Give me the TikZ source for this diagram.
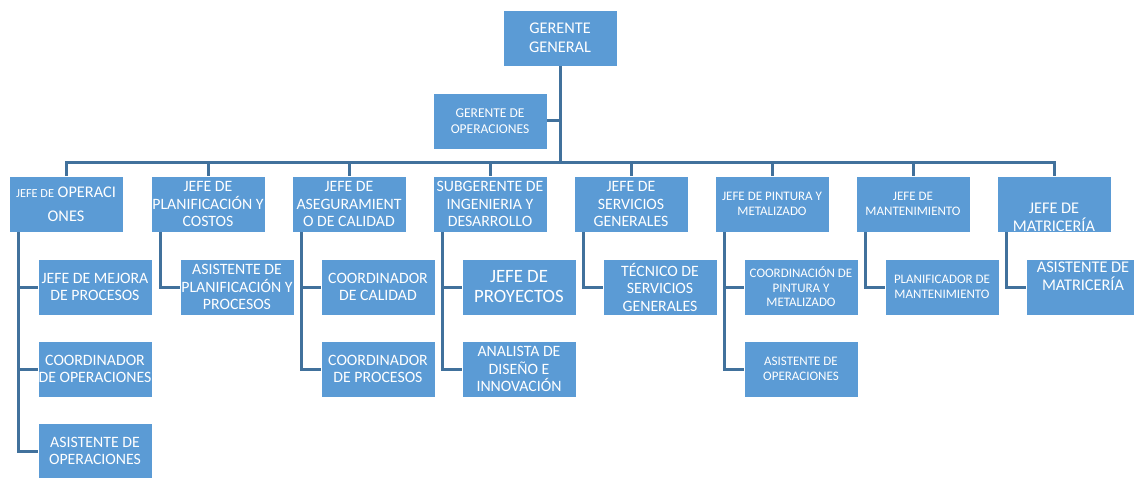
\documentclass[tikz,border=0pt]{standalone}
\usepackage[dvipsnames]{xcolor}
\usepackage{tikz}
\usepackage{fontspec}
\setmainfont{Carlito}
\definecolor{boxblue}{HTML}{5B9BD5}
\definecolor{lineblue}{HTML}{41719C}

\begin{document}
\begin{tikzpicture}[x=1pt,y=-1pt,
   box/.style={fill=boxblue,draw=white,line width=0.8pt,text=white,minimum width=114pt,minimum height=56pt,inner sep=0pt,align=center},
   big/.style={font=\fontsize{15.8}{17.5}\selectfont},
   small/.style={font=\fontsize{13}{14.5}\selectfont},
   link/.style={draw=lineblue,line width=3pt}] % organigrama
   \useasboundingbox (0,0) rectangle (1134,478);

   \node[box,font=\fontsize{16.3}{18.5}\selectfont] (gg)  at (560, 38) {GERENTE\\GENERAL};
   \node[box,font=\fontsize{13.5}{15.5}\selectfont] (gdo) at (490,121) {GERENTE DE\\OPERACIONES};
   \coordinate (bus) at (560,163);

   \node[box,font=\fontsize{16.3}{24}\selectfont] (jop) at (  66,204) {{\fontsize{12.3}{24}\selectfont JEFE DE} OPERACI\\ONES};
   \node[box,big]   (jpl) at ( 208,204) {JEFE DE\\PLANIFICACIÓN Y\\COSTOS};
   \node[box,big]   (jas) at ( 349,204) {JEFE DE\\ASEGURAMIENT\\O DE CALIDAD};
   \node[box,big]   (sub) at ( 490,204) {SUBGERENTE DE\\INGENIERIA Y\\DESARROLLO};
   \node[box,big]   (jsg) at ( 631,204) {JEFE DE\\SERVICIOS\\GENERALES};
   \node[box,small] (jpm) at ( 772,204) {JEFE DE PINTURA Y\\METALIZADO};
   \node[box,small] (jma) at ( 913,204) {JEFE DE\\MANTENIMIENTO};
   \node[box,font=\fontsize{16.3}{18}\selectfont,inner ysep=-3pt] (jmt) at (1054,204) {\mbox{}\\[20pt]JEFE DE\\MATRICERÍA};

   \node[box,big]   (mej) at (  95,287) {JEFE DE MEJORA\\DE PROCESOS};
   \node[box,big]   (cop) at (  95,369) {COORDINADOR\\DE OPERACIONES};
   \node[box,big]   (aop) at (  95,451) {ASISTENTE DE\\OPERACIONES};
   \node[box,big]   (apl) at ( 237,287) {ASISTENTE DE\\PLANIFICACIÓN Y\\PROCESOS};
   \node[box,big]   (cca) at ( 378,287) {COORDINADOR\\DE CALIDAD};
   \node[box,big]   (cpr) at ( 378,369) {COORDINADOR\\DE PROCESOS};
   \node[box,font=\fontsize{18.8}{20}\selectfont] (pro) at ( 519,287) {JEFE DE\\PROYECTOS};
   \node[box,big]   (ana) at ( 519,369) {ANALISTA DE\\DISEÑO E\\INNOVACIÓN};
   \node[box,big]   (tec) at ( 660,287) {TÉCNICO DE\\SERVICIOS\\GENERALES};
   \node[box,small] (cpm) at ( 801,287) {COORDINACIÓN DE\\PINTURA Y\\METALIZADO};
   \node[box,small] (apm) at ( 801,369) {ASISTENTE DE\\OPERACIONES};
   \node[box,small] (pma) at ( 942,287) {PLANIFICADOR DE\\MANTENIMIENTO};
   \node[box,font=\fontsize{16.3}{18}\selectfont] (amt) at (1083,287) {ASISTENTE DE\\MATRICERÍA\\[4pt]\mbox{}};

   \draw[link] (gg.south) -- (bus);
   \draw[link] (gdo.east) -- (gdo.east -| bus);
   \draw[link] (jop.north) |- (bus) -| (jmt.north);
   \foreach \n in {jpl,jas,sub,jsg,jpm,jma}
      \draw[link] (\n.north) -- (\n.north |- bus);

   \draw[link] ([xshift=10pt]jop.south west) |- (mej.west);
   \draw[link] ([xshift=10pt]jop.south west) |- (cop.west);
   \draw[link] ([xshift=10pt]jop.south west) |- (aop.west);
   \draw[link] ([xshift=10pt]jpl.south west) |- (apl.west);
   \draw[link] ([xshift=10pt]jas.south west) |- (cca.west);
   \draw[link] ([xshift=10pt]jas.south west) |- (cpr.west);
   \draw[link] ([xshift=10pt]sub.south west) |- (pro.west);
   \draw[link] ([xshift=10pt]sub.south west) |- (ana.west);
   \draw[link] ([xshift=10pt]jsg.south west) |- (tec.west);
   \draw[link] ([xshift=10pt]jpm.south west) |- (cpm.west);
   \draw[link] ([xshift=10pt]jpm.south west) |- (apm.west);
   \draw[link] ([xshift=10pt]jma.south west) |- (pma.west);
   \draw[link] ([xshift=10pt]jmt.south west) |- (amt.west);
\end{tikzpicture}
\end{document}
